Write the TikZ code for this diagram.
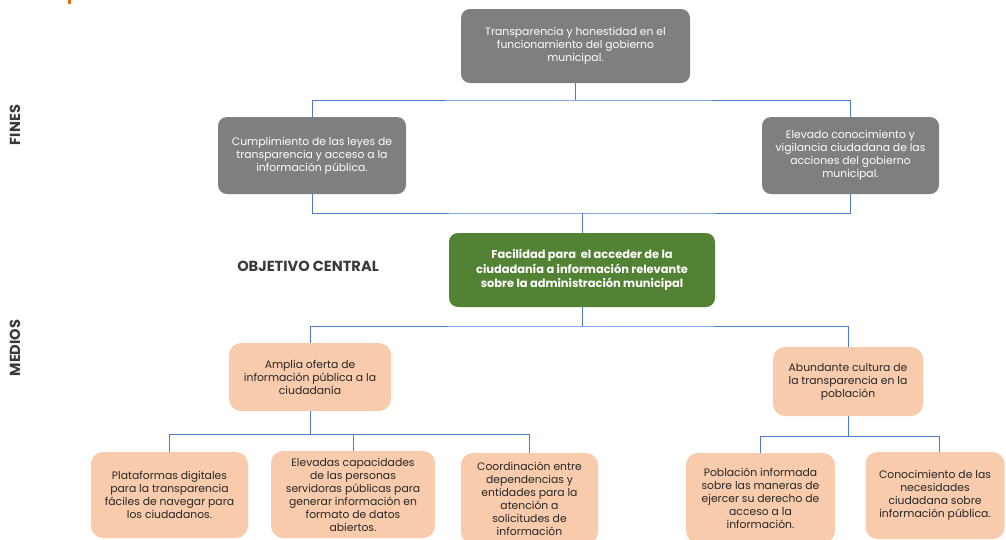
\documentclass[tikz,border=0pt]{standalone}
\usepackage{fontspec}
\setmainfont{Poppins}
\usepackage{xcolor}
\usetikzlibrary{calc}

\definecolor{finegray}{HTML}{7F7F7F}
\definecolor{objgreen}{HTML}{548235}
\definecolor{medpeach}{HTML}{F8CBAD}
\definecolor{linkblue}{HTML}{4A7BD0}
\definecolor{labelgray}{HTML}{3A3A3A}
\definecolor{markorange}{HTML}{E46C0A}

\begin{document}
\begin{tikzpicture}[
      x=1pt, y=-1pt,
      box/.style={rounded corners=9pt, align=center, inner sep=0pt,
                  font=\fontsize{10.8}{13}\selectfont},
      fin/.style={box, fill=finegray, text=white},
      obj/.style={box, fill=objgreen, text=white,
                  font=\fontsize{11.4}{14.5}\selectfont\bfseries},
      med/.style={box, fill=medpeach, text=black!85, rounded corners=12pt},
      side/.style={font=\fontsize{14.6}{16}\selectfont\bfseries, text=labelgray},
      conn/.style={draw=linkblue, line width=0.9pt}
    ]
    \useasboundingbox (0,0) rectangle (1006,539);
    \fill[markorange] (67.5,0) rectangle (70.5,4);

    % side labels
    \node[side, rotate=90] (fines)  at (15,125) {FINES};
    \node[side, rotate=90] (medios) at (15,348) {MEDIOS};
    \node[side] (central) at (308,266) {OBJETIVO CENTRAL};

    % fines
    \node[fin, minimum width=229, minimum height=74] (top) at (575.5,46)
      {Transparencia y honestidad en el\\funcionamiento del gobierno\\municipal.};
    \node[fin, minimum width=188, minimum height=77] (finL) at (312,155.5)
      {Cumplimiento de las leyes de\\transparencia y acceso a la\\información pública.};
    \node[fin, minimum width=177, minimum height=77] (finR) at (850.5,155.5)
      {Elevado conocimiento y\\vigilancia ciudadana de las\\acciones del gobierno\\municipal.};

    % objetivo
    \node[obj, minimum width=266, minimum height=74] (goal) at (582,270)
      {Facilidad para \ el acceder de la\\ciudadanía a información relevante\\sobre la administración municipal};

    % medios
    \node[med, minimum width=162, minimum height=68] (medL) at (310,377)
      {Amplia oferta de\\información pública a la\\ciudadanía};
    \node[med, minimum width=150, minimum height=69] (medR) at (848,381.5)
      {Abundante cultura de\\la transparencia en la\\población};
    \node[med, minimum width=157, minimum height=86] (plat) at (169.5,495)
      {Plataformas digitales\\para la transparencia\\fáciles de navegar para\\los ciudadanos.};
    \node[med, minimum width=164, minimum height=87] (capac) at (353,494.5)
      {Elevadas capacidades\\de las personas\\servidoras públicas para\\generar información en\\formato de datos\\abiertos.};
    \node[med, minimum width=137, minimum height=91] (coord) at (529.5,498.5)
      {Coordinación entre\\dependencias y\\entidades para la\\atención a\\solicitudes de\\información};
    \node[med, minimum width=149, minimum height=90] (pobl) at (760.5,498)
      {Población informada\\sobre las maneras de\\ejercer su derecho de\\acceso a la\\información.};
    \node[med, minimum width=139, minimum height=87] (conoc) at (935,495.5)
      {Conocimiento de las\\necesidades\\ciudadana sobre\\información pública.};

    % junctions
    \coordinate (j1) at (575.5,100);
    \coordinate (j2) at (582,213);
    \coordinate (j3) at (582,326);
    \coordinate (j4) at (310,434);
    \coordinate (j5) at (848,436);

    \draw[conn] (top.south) -- (j1);
    \draw[conn] (finL.north) |- (j1) -| (finR.north);
    \draw[conn] (finL.south) |- (j2) -| (finR.south);
    \draw[conn] (j2) -- (goal.north);
    \draw[conn] (goal.south) -- (j3);
    \draw[conn] (medL.north) |- (j3) -| (medR.north);
    \draw[conn] (medL.south) -- (j4);
    \draw[conn] (plat.north) |- (j4) -| (coord.north);
    \draw[conn] (j4) -| (capac.north);
    \draw[conn] (medR.south) -- (j5);
    \draw[conn] (pobl.north) |- (j5) -| ([xshift=4]conoc.north);
  \end{tikzpicture}
\end{document}
